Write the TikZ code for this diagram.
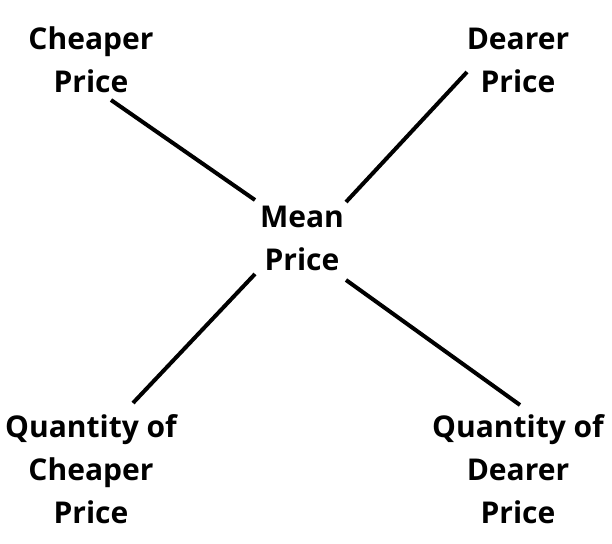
\documentclass[tikz,border=0pt]{standalone}
\usepackage{fontspec}
\setmainfont{Open Sans}
\begin{document}
\begin{tikzpicture}[x=1pt,y=-1pt,
  lbl/.style={font=\bfseries\fontsize{30}{43}\selectfont, align=center, inner sep=0pt},
  conn/.style={line width=4pt}]
\useasboundingbox[fill=white] (0,0) rectangle (612,543);
\node[lbl] (cp) at (91,60) {Cheaper\\Price};
\node[lbl] (dp) at (518,60) {Dearer\\Price};
\node[lbl] (mp) at (302,238) {Mean\\Price};
\node[lbl] (qc) at (91,469) {Quantity of\\Cheaper\\Price};
\node[lbl] (qd) at (518,469) {Quantity of\\Dearer\\Price};
\coordinate (a1) at (111,100); \coordinate (a2) at (255,200);
\coordinate (b1) at (467,72); \coordinate (b2) at (346,202);
\coordinate (c1) at (255,274); \coordinate (c2) at (133,403);
\coordinate (d1) at (346,280); \coordinate (d2) at (520,405);
\draw[conn] (a1) -- (a2);
\draw[conn] (b1) -- (b2);
\draw[conn] (c1) -- (c2);
\draw[conn] (d1) -- (d2);
\end{tikzpicture}
\end{document}
